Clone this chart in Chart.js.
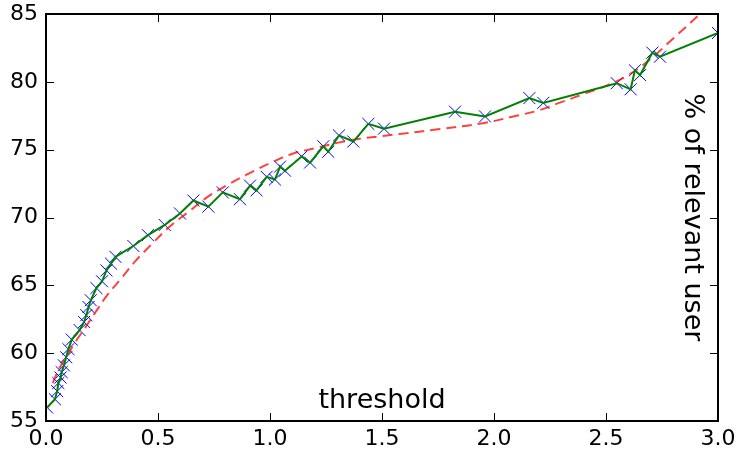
<!DOCTYPE html>
<html>
<head>
<meta charset="utf-8">
<script src="https://cdn.jsdelivr.net/npm/chart.js@4/dist/chart.umd.min.js"></script>
<style>
  html, body { margin: 0; padding: 0; background: #fff; }
  #wrap { width: 742px; height: 454px; }
</style>
</head>
<body>
<div id="wrap"><canvas id="chart"></canvas></div>
<script>
// measured threshold vs. % of relevant users
const thresholdX = [0.005, 0.04, 0.05, 0.055, 0.065, 0.07, 0.08, 0.09, 0.10, 0.115, 0.15, 0.17, 0.18, 0.19, 0.20,
    0.225, 0.25, 0.27, 0.29, 0.31, 0.39, 0.455, 0.53, 0.598, 0.658, 0.725, 0.789, 0.866, 0.911, 0.94,
    0.985, 1.022, 1.045, 1.067, 1.141, 1.179, 1.238, 1.26, 1.308, 1.372, 1.439, 1.509, 1.826, 1.96,
    2.158, 2.22, 2.548, 2.61, 2.629, 2.652, 2.707, 2.741, 3.0];
const relevantY = [56.0, 56.6, 57.2, 57.8, 58.2, 58.6, 59.1, 59.7, 60.3, 61.0, 61.7, 62.3, 62.8, 63.4, 63.9,
    64.8, 65.3, 66.1, 66.6, 67.1, 67.9, 68.7, 69.45, 70.3, 71.25, 70.8, 71.85, 71.35, 72.35, 72.0,
    73.0, 72.8, 73.75, 73.45, 74.5, 74.05, 75.25, 74.85, 76.05, 75.6, 76.9, 76.55, 77.8, 77.45,
    78.8, 78.45, 79.9, 79.45, 80.85, 80.5, 82.15, 81.85, 83.6];

// fitted curve (red dashed)
const fitX = [0.03, 0.06, 0.09, 0.13, 0.18, 0.22, 0.27, 0.33, 0.40, 0.47, 0.55, 0.635, 0.72, 0.81, 0.90,
    1.0, 1.1, 1.2, 1.3, 1.4, 1.5, 1.6, 1.75, 1.95, 2.1, 2.2, 2.3, 2.4, 2.5, 2.6, 2.7, 2.8, 2.92];
const fitY = [57.8, 58.9, 59.7, 60.8, 62.0, 63.0, 64.2, 65.4, 66.8, 68.0, 69.3, 70.4, 71.5, 72.4, 73.2,
    74.0, 74.7, 75.1, 75.5, 75.8, 76.0, 76.2, 76.5, 76.95, 77.5, 77.9, 78.5, 79.1, 79.7, 80.5, 81.7, 83.2, 85.0];

const xTicks = [0, 0.5, 1.0, 1.5, 2.0, 2.5, 3.0];
const yTicks = [55, 60, 65, 70, 75, 80, 85];

const toPts = (xs, ys) => xs.map((x, i) => ({ x: x, y: ys[i] }));

// box around the plot, inward ticks and the two axis captions inside the plot
const framePlugin = {
    id: 'frame',
    afterDraw(chart) {
        const ctx = chart.ctx;
        const a = chart.chartArea;
        const xs = chart.scales.x, ys = chart.scales.y;
        ctx.save();
        ctx.strokeStyle = '#000';
        ctx.lineWidth = 1;
        xTicks.forEach(v => {
            const px = Math.round(xs.getPixelForValue(v)) + 0.5;
            ctx.beginPath();
            ctx.moveTo(px, a.bottom); ctx.lineTo(px, a.bottom - 8);
            ctx.moveTo(px, a.top); ctx.lineTo(px, a.top + 8);
            ctx.stroke();
        });
        yTicks.forEach(v => {
            const py = Math.round(ys.getPixelForValue(v)) + 0.5;
            ctx.beginPath();
            ctx.moveTo(a.left, py); ctx.lineTo(a.left + 8, py);
            ctx.moveTo(a.right, py); ctx.lineTo(a.right - 8, py);
            ctx.stroke();
        });
        ctx.lineWidth = 2;
        ctx.strokeRect(a.left, a.top, a.right - a.left, a.bottom - a.top);

        ctx.fillStyle = '#000';
        ctx.font = '27px "DejaVu Sans"';
        ctx.textAlign = 'center';
        ctx.textBaseline = 'middle';
        ctx.fillText('threshold', (a.left + a.right) / 2, a.bottom - 20);
        ctx.translate(a.right - 26, (a.top + a.bottom) / 2);
        ctx.rotate(Math.PI / 2);
        ctx.fillText('% of relevant user', 0, 0);
        ctx.restore();
    }
};

new Chart(document.getElementById('chart'), {
    type: 'line',
    data: {
        datasets: [{
            label: 'samples',
            data: toPts(thresholdX, relevantY),
            showLine: false,
            pointStyle: 'crossRot',
            pointRadius: 8.5,
            pointBorderColor: '#0000ff',
            pointBorderWidth: 1,
            clip: 0,
            order: 3
        }, {
            label: 'measured',
            data: toPts(thresholdX, relevantY),
            borderColor: '#008000',
            borderWidth: 2,
            pointRadius: 0,
            tension: 0,
            clip: 0,
            order: 1
        }, {
            label: 'fit',
            data: toPts(fitX, fitY),
            borderColor: 'rgba(255, 0, 0, 0.75)',
            borderWidth: 2,
            borderDash: [10, 6],
            pointRadius: 0,
            tension: 0.4,
            clip: 0,
            order: 2
        }]
    },
    options: {
        responsive: true,
        maintainAspectRatio: false,
        animation: false,
        layout: { padding: { top: 14, right: 24, left: 0, bottom: 0 } },
        plugins: {
            legend: { display: false },
            tooltip: { enabled: false }
        },
        scales: {
            x: {
                type: 'linear',
                min: 0,
                max: 3,
                grid: { display: false, drawTicks: false },
                border: { display: false },
                afterFit: s => { s.height = 33; s.paddingLeft = 0; s.paddingRight = 0; },
                afterBuildTicks: s => { s.ticks = xTicks.map(v => ({ value: v })); },
                ticks: {
                    color: '#000',
                    padding: 5,
                    maxRotation: 0,
                    font: { family: 'DejaVu Sans', size: 22 },
                    callback: v => v.toFixed(1)
                }
            },
            y: {
                min: 55,
                max: 85,
                grid: { display: false, drawTicks: false },
                border: { display: false },
                afterFit: s => { s.width = 46; s.paddingTop = 0; s.paddingBottom = 0; },
                afterBuildTicks: s => { s.ticks = yTicks.map(v => ({ value: v })); },
                ticks: {
                    color: '#000',
                    padding: 8,
                    font: { family: 'DejaVu Sans', size: 22 }
                }
            }
        }
    },
    plugins: [framePlugin]
});
</script>
</body>
</html>
